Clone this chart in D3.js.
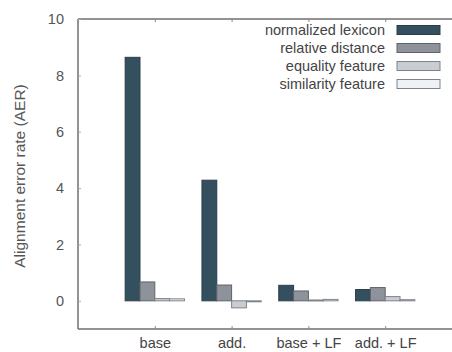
<!DOCTYPE html>
<html>
<head>
<meta charset="utf-8">
<script src="https://cdn.jsdelivr.net/npm/d3@7"></script>
<style>
  html, body { margin: 0; padding: 0; background: #fff; }
  svg { display: block; }
  text { font-family: "Liberation Sans", Arial, sans-serif; }
</style>
</head>
<body>
<svg id="chart" width="452" height="352"></svg>
<script>
const categories = ["base", "add.", "base + LF", "add. + LF"];
const seriesNames = ["normalized lexicon", "relative distance", "equality feature", "similarity feature"];
const normalizedLexicon = [8.64, 4.28, 0.55, 0.40];
const relativeDistance = [0.67, 0.56, 0.35, 0.47];
const equalityFeature = [0.08, -0.25, 0.03, 0.15];
const similarityFeature = [0.07, -0.03, 0.05, 0.04];
const yTicks = [0, 2, 4, 6, 8, 10];

const seriesValues = [normalizedLexicon, relativeDistance, equalityFeature, similarityFeature];
const fills = ["#34505f", "#8e939b", "#c9cdd2", "#eef2f4"];
const strokes = ["#2a3e4a", "#5e636b", "#7e848b", "#7e848b"];

const svg = d3.select("#chart");
const mLeft = 78, mTop = 19, mBottom = 329, mRight = 462;

const x = d3.scaleLinear().domain([0, 5]).range([mLeft, mRight]);
const y = d3.scaleLinear().domain([-1, 10]).range([mBottom, mTop]);
const barW = 0.193; // in x units

// frame
const axisColor = "#6f6f6f";
svg.append("line").attr("x1", mLeft).attr("x2", mRight).attr("y1", mTop).attr("y2", mTop)
  .attr("stroke", axisColor).attr("stroke-width", 1.5);
svg.append("line").attr("x1", mLeft).attr("x2", mRight).attr("y1", mBottom).attr("y2", mBottom)
  .attr("stroke", axisColor).attr("stroke-width", 1.5);
svg.append("line").attr("x1", mLeft).attr("x2", mLeft).attr("y1", mTop).attr("y2", mBottom)
  .attr("stroke", axisColor).attr("stroke-width", 1.5);

// y ticks
const yAxis = d3.axisLeft(y).tickValues(yTicks).tickSize(-3).tickPadding(14).tickFormat(d3.format("d"));
const gy = svg.append("g").attr("transform", `translate(${mLeft},0)`).call(yAxis);
gy.select(".domain").remove();
gy.selectAll(".tick line").attr("stroke", "#aaa");
gy.selectAll(".tick text").attr("fill", "#555").attr("font-size", 14.5);

// x ticks (bottom and top)
const xTickVals = categories.map((c, i) => i + 1);
const xAxis = d3.axisBottom(x).tickValues(xTickVals).tickSize(-3).tickPadding(9)
  .tickFormat((d, i) => categories[i]);
const gx = svg.append("g").attr("transform", `translate(0,${mBottom})`).call(xAxis);
gx.select(".domain").remove();
gx.selectAll(".tick line").attr("stroke", "#888");
gx.selectAll(".tick text").attr("fill", "#444").attr("font-size", 14.5);

const xTop = d3.axisTop(x).tickValues(xTickVals).tickSize(-3).tickFormat("");
const gxt = svg.append("g").attr("transform", `translate(0,${mTop})`).call(xTop);
gxt.select(".domain").remove();
gxt.selectAll(".tick line").attr("stroke", "#888");

// y label
svg.append("text")
  .attr("transform", `translate(24.5,176) rotate(-90)`)
  .attr("text-anchor", "middle")
  .attr("fill", "#555")
  .attr("font-size", 15.5)
  .text("Alignment error rate (AER)");

// bars
seriesValues.forEach((vals, s) => {
  svg.append("g").selectAll("rect")
    .data(vals)
    .join("rect")
    .attr("x", (d, i) => x(i + 1 - 2 * barW + s * barW))
    .attr("width", x(barW) - x(0))
    .attr("y", d => y(Math.max(0, d)))
    .attr("height", d => Math.max(1, Math.abs(y(d) - y(0))))
    .attr("fill", fills[s])
    .attr("stroke", strokes[s])
    .attr("stroke-width", 1);
});

// legend
const leg = svg.append("g");
seriesNames.forEach((name, s) => {
  const cy = 30 + s * 18;
  leg.append("text")
    .attr("x", 385).attr("y", cy).attr("dy", "0.35em")
    .attr("text-anchor", "end")
    .attr("fill", "#444")
    .attr("font-size", 14.5)
    .text(name);
  leg.append("rect")
    .attr("x", 397).attr("y", cy - 4.5)
    .attr("width", 43).attr("height", 9)
    .attr("fill", fills[s])
    .attr("stroke", strokes[s])
    .attr("stroke-width", 1);
});
</script>
</body>
</html>
